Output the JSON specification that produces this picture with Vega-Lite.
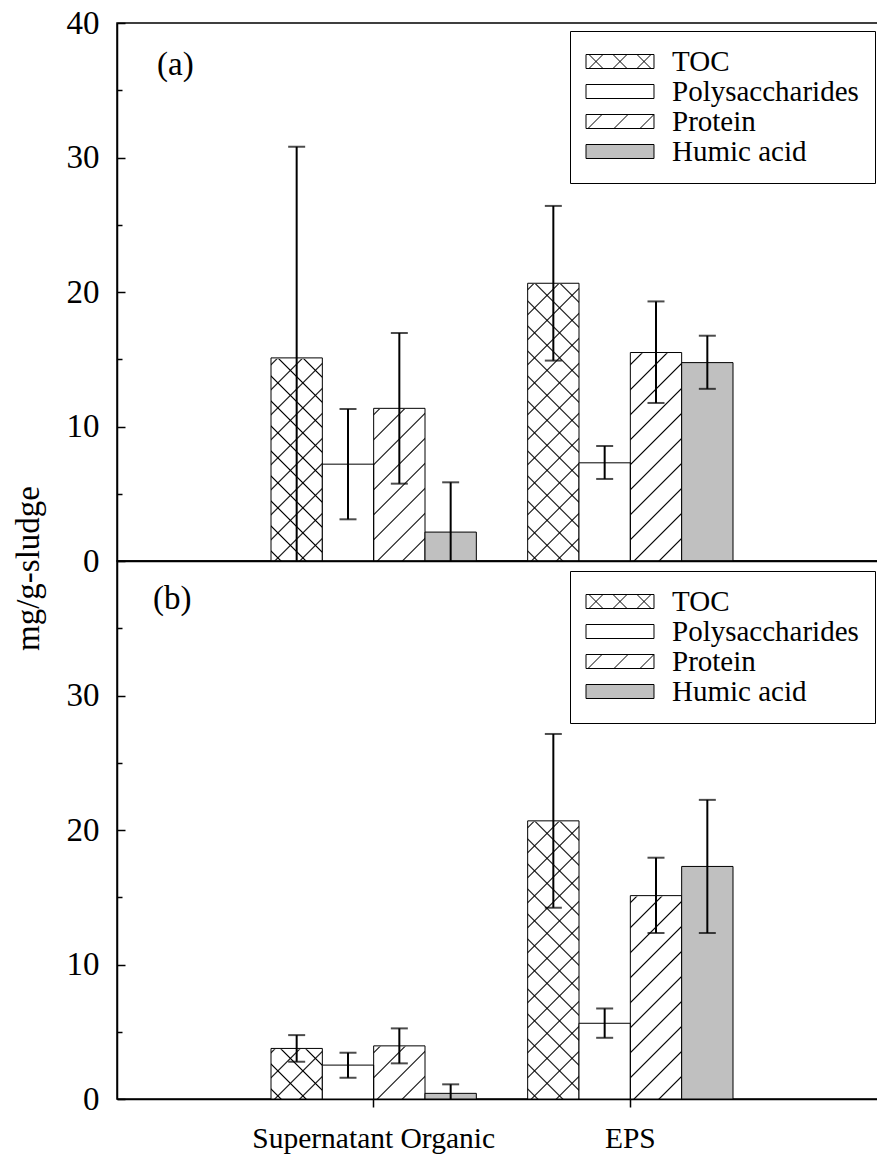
{
  "$schema": "https://vega.github.io/schema/vega-lite/v6.json",
  "background": "white",
  "padding": {"left": 11, "top": 6, "right": 0, "bottom": 0},
  "autosize": {"type": "pad"},
  "spacing": 0,
  "bounds": "flush",
  "config": {
    "font": "Liberation Serif",
    "view": {"stroke": "black", "strokeWidth": 1.5},
    "axis": {"domainColor": "black", "domainWidth": 1.5, "tickColor": "black", "tickWidth": 1.5, "labelColor": "black", "labelFont": "Liberation Serif", "titleFont": "Liberation Serif", "titleColor": "black", "titleFontWeight": "normal", "grid": false, "labelFlush": false, "labelOverlap": false, "labelLimit": 500, "zindex": 1},
    "legend": {"strokeWidth": 1, "labelFont": "Liberation Serif"}
  },
  "data": {"values": [
    {"panel": "a", "cat": "Supernatant Organic", "series": "TOC", "value": 15.1, "lo": -0.6, "hi": 30.8},
    {"panel": "a", "cat": "Supernatant Organic", "series": "Polysaccharides", "value": 7.2, "lo": 3.1, "hi": 11.3},
    {"panel": "a", "cat": "Supernatant Organic", "series": "Protein", "value": 11.35, "lo": 5.75, "hi": 16.95},
    {"panel": "a", "cat": "Supernatant Organic", "series": "Humic acid", "value": 2.15, "lo": -1.55, "hi": 5.85},
    {"panel": "a", "cat": "EPS", "series": "TOC", "value": 20.65, "lo": 14.9, "hi": 26.4},
    {"panel": "a", "cat": "EPS", "series": "Polysaccharides", "value": 7.3, "lo": 6.1, "hi": 8.55},
    {"panel": "a", "cat": "EPS", "series": "Protein", "value": 15.5, "lo": 11.75, "hi": 19.3},
    {"panel": "a", "cat": "EPS", "series": "Humic acid", "value": 14.75, "lo": 12.8, "hi": 16.75},
    {"panel": "b", "cat": "Supernatant Organic", "series": "TOC", "value": 3.76, "lo": 2.77, "hi": 4.75},
    {"panel": "b", "cat": "Supernatant Organic", "series": "Polysaccharides", "value": 2.52, "lo": 1.58, "hi": 3.44},
    {"panel": "b", "cat": "Supernatant Organic", "series": "Protein", "value": 3.95, "lo": 2.65, "hi": 5.25},
    {"panel": "b", "cat": "Supernatant Organic", "series": "Humic acid", "value": 0.42, "lo": -0.25, "hi": 1.09},
    {"panel": "b", "cat": "EPS", "series": "TOC", "value": 20.68, "lo": 14.22, "hi": 27.14},
    {"panel": "b", "cat": "EPS", "series": "Polysaccharides", "value": 5.63, "lo": 4.55, "hi": 6.73},
    {"panel": "b", "cat": "EPS", "series": "Protein", "value": 15.12, "lo": 12.34, "hi": 17.94},
    {"panel": "b", "cat": "EPS", "series": "Humic acid", "value": 17.29, "lo": 12.34, "hi": 22.24}
  ]},
  "resolve": {"scale": {"fill": "independent", "shape": "independent", "stroke": "independent", "y": "independent"}, "legend": {"fill": "independent", "shape": "independent", "stroke": "independent"}},
  "vconcat": [
    {
      "width": 770, "height": 538,
      "title": {"text": "(a)", "orient": "top", "anchor": "start", "frame": "group", "offset": -101, "dx": 40, "baseline": "alphabetic", "font": "Liberation Serif", "fontSize": 33, "fontWeight": "normal", "color": "black"},
      "transform": [{"filter": "datum.panel === 'a'"}],
      "encoding": {
        "x": {"field": "cat", "type": "nominal", "title": null, "scale": {"domain": ["Supernatant Organic", "EPS"], "paddingInner": 0.2, "paddingOuter": 0.6}, "axis": {"labels": false, "ticks": false, "title": null}},
        "xOffset": {"field": "series", "type": "nominal", "scale": {"domain": ["TOC", "Polysaccharides", "Protein", "Humic acid"], "paddingInner": 0, "paddingOuter": 0}}
      },
      "resolve": {"axis": {"y": "independent"}},
      "layer": [
        {"transform": [{"filter": "datum.series === 'TOC'"}],
         "mark": {"type": "bar", "fill": {"gradient": "linear", "x1": 0, "y1": 0, "x2": 0.104979, "y2": 1.08649, "stops": [{"offset":0,"color":"white"},{"offset":0.0146,"color":"white"},{"offset":0.0172,"color":"black"},{"offset":0.0198,"color":"white"},{"offset":0.0575,"color":"white"},{"offset":0.0601,"color":"black"},{"offset":0.0627,"color":"white"},{"offset":0.1004,"color":"white"},{"offset":0.103,"color":"black"},{"offset":0.1056,"color":"white"},{"offset":0.1433,"color":"white"},{"offset":0.1459,"color":"black"},{"offset":0.1485,"color":"white"},{"offset":0.1862,"color":"white"},{"offset":0.1888,"color":"black"},{"offset":0.1914,"color":"white"},{"offset":0.2291,"color":"white"},{"offset":0.2317,"color":"black"},{"offset":0.2343,"color":"white"},{"offset":0.272,"color":"white"},{"offset":0.2746,"color":"black"},{"offset":0.2772,"color":"white"},{"offset":0.3149,"color":"white"},{"offset":0.3175,"color":"black"},{"offset":0.3201,"color":"white"},{"offset":0.3578,"color":"white"},{"offset":0.3604,"color":"black"},{"offset":0.363,"color":"white"},{"offset":0.4008,"color":"white"},{"offset":0.4034,"color":"black"},{"offset":0.406,"color":"white"},{"offset":0.4437,"color":"white"},{"offset":0.4463,"color":"black"},{"offset":0.4489,"color":"white"},{"offset":0.4866,"color":"white"},{"offset":0.4892,"color":"black"},{"offset":0.4918,"color":"white"},{"offset":0.5295,"color":"white"},{"offset":0.5321,"color":"black"},{"offset":0.5347,"color":"white"},{"offset":0.5724,"color":"white"},{"offset":0.575,"color":"black"},{"offset":0.5776,"color":"white"},{"offset":0.6153,"color":"white"},{"offset":0.6179,"color":"black"},{"offset":0.6205,"color":"white"},{"offset":0.6582,"color":"white"},{"offset":0.6608,"color":"black"},{"offset":0.6634,"color":"white"},{"offset":0.7011,"color":"white"},{"offset":0.7037,"color":"black"},{"offset":0.7063,"color":"white"},{"offset":0.744,"color":"white"},{"offset":0.7466,"color":"black"},{"offset":0.7492,"color":"white"},{"offset":0.787,"color":"white"},{"offset":0.7896,"color":"black"},{"offset":0.7922,"color":"white"},{"offset":0.8299,"color":"white"},{"offset":0.8325,"color":"black"},{"offset":0.8351,"color":"white"},{"offset":0.8728,"color":"white"},{"offset":0.8754,"color":"black"},{"offset":0.878,"color":"white"},{"offset":0.9157,"color":"white"},{"offset":0.9183,"color":"black"},{"offset":0.9209,"color":"white"},{"offset":0.9586,"color":"white"},{"offset":0.9612,"color":"black"},{"offset":0.9638,"color":"white"},{"offset":1,"color":"white"}]}},
         "encoding": {"y": {"datum": 39.5, "type": "quantitative", "scale": {"domain": [0, 40], "nice": false, "zero": true}, "axis": null}, "y2": {"datum": 0}}},
        {"transform": [{"filter": "datum.series === 'TOC'"}],
         "mark": {"type": "bar", "fill": {"gradient": "linear", "x1": 0, "y1": 1, "x2": 0.104979, "y2": -0.08649, "stops": [{"offset":0,"color":"rgba(0,0,0,0)"},{"offset":0.0146,"color":"rgba(0,0,0,0)"},{"offset":0.0172,"color":"black"},{"offset":0.0198,"color":"rgba(0,0,0,0)"},{"offset":0.0575,"color":"rgba(0,0,0,0)"},{"offset":0.0601,"color":"black"},{"offset":0.0627,"color":"rgba(0,0,0,0)"},{"offset":0.1004,"color":"rgba(0,0,0,0)"},{"offset":0.103,"color":"black"},{"offset":0.1056,"color":"rgba(0,0,0,0)"},{"offset":0.1433,"color":"rgba(0,0,0,0)"},{"offset":0.1459,"color":"black"},{"offset":0.1485,"color":"rgba(0,0,0,0)"},{"offset":0.1862,"color":"rgba(0,0,0,0)"},{"offset":0.1888,"color":"black"},{"offset":0.1914,"color":"rgba(0,0,0,0)"},{"offset":0.2291,"color":"rgba(0,0,0,0)"},{"offset":0.2317,"color":"black"},{"offset":0.2343,"color":"rgba(0,0,0,0)"},{"offset":0.272,"color":"rgba(0,0,0,0)"},{"offset":0.2746,"color":"black"},{"offset":0.2772,"color":"rgba(0,0,0,0)"},{"offset":0.3149,"color":"rgba(0,0,0,0)"},{"offset":0.3175,"color":"black"},{"offset":0.3201,"color":"rgba(0,0,0,0)"},{"offset":0.3578,"color":"rgba(0,0,0,0)"},{"offset":0.3604,"color":"black"},{"offset":0.363,"color":"rgba(0,0,0,0)"},{"offset":0.4008,"color":"rgba(0,0,0,0)"},{"offset":0.4034,"color":"black"},{"offset":0.406,"color":"rgba(0,0,0,0)"},{"offset":0.4437,"color":"rgba(0,0,0,0)"},{"offset":0.4463,"color":"black"},{"offset":0.4489,"color":"rgba(0,0,0,0)"},{"offset":0.4866,"color":"rgba(0,0,0,0)"},{"offset":0.4892,"color":"black"},{"offset":0.4918,"color":"rgba(0,0,0,0)"},{"offset":0.5295,"color":"rgba(0,0,0,0)"},{"offset":0.5321,"color":"black"},{"offset":0.5347,"color":"rgba(0,0,0,0)"},{"offset":0.5724,"color":"rgba(0,0,0,0)"},{"offset":0.575,"color":"black"},{"offset":0.5776,"color":"rgba(0,0,0,0)"},{"offset":0.6153,"color":"rgba(0,0,0,0)"},{"offset":0.6179,"color":"black"},{"offset":0.6205,"color":"rgba(0,0,0,0)"},{"offset":0.6582,"color":"rgba(0,0,0,0)"},{"offset":0.6608,"color":"black"},{"offset":0.6634,"color":"rgba(0,0,0,0)"},{"offset":0.7011,"color":"rgba(0,0,0,0)"},{"offset":0.7037,"color":"black"},{"offset":0.7063,"color":"rgba(0,0,0,0)"},{"offset":0.744,"color":"rgba(0,0,0,0)"},{"offset":0.7466,"color":"black"},{"offset":0.7492,"color":"rgba(0,0,0,0)"},{"offset":0.787,"color":"rgba(0,0,0,0)"},{"offset":0.7896,"color":"black"},{"offset":0.7922,"color":"rgba(0,0,0,0)"},{"offset":0.8299,"color":"rgba(0,0,0,0)"},{"offset":0.8325,"color":"black"},{"offset":0.8351,"color":"rgba(0,0,0,0)"},{"offset":0.8728,"color":"rgba(0,0,0,0)"},{"offset":0.8754,"color":"black"},{"offset":0.878,"color":"rgba(0,0,0,0)"},{"offset":0.9157,"color":"rgba(0,0,0,0)"},{"offset":0.9183,"color":"black"},{"offset":0.9209,"color":"rgba(0,0,0,0)"},{"offset":0.9586,"color":"rgba(0,0,0,0)"},{"offset":0.9612,"color":"black"},{"offset":0.9638,"color":"rgba(0,0,0,0)"},{"offset":1,"color":"rgba(0,0,0,0)"}]}},
         "encoding": {"y": {"datum": 39.5, "type": "quantitative", "scale": {"domain": [0, 40], "nice": false, "zero": true}, "axis": null}, "y2": {"datum": 0}}},
        {"transform": [{"filter": "datum.series === 'Protein'"}],
         "mark": {"type": "bar", "fill": {"gradient": "linear", "x1": 0, "y1": 0, "x2": 0.104979, "y2": 1.08649, "stops": [{"offset":0,"color":"white"},{"offset":0.0146,"color":"white"},{"offset":0.0172,"color":"black"},{"offset":0.0198,"color":"white"},{"offset":0.0575,"color":"white"},{"offset":0.0601,"color":"black"},{"offset":0.0627,"color":"white"},{"offset":0.1004,"color":"white"},{"offset":0.103,"color":"black"},{"offset":0.1056,"color":"white"},{"offset":0.1433,"color":"white"},{"offset":0.1459,"color":"black"},{"offset":0.1485,"color":"white"},{"offset":0.1862,"color":"white"},{"offset":0.1888,"color":"black"},{"offset":0.1914,"color":"white"},{"offset":0.2291,"color":"white"},{"offset":0.2317,"color":"black"},{"offset":0.2343,"color":"white"},{"offset":0.272,"color":"white"},{"offset":0.2746,"color":"black"},{"offset":0.2772,"color":"white"},{"offset":0.3149,"color":"white"},{"offset":0.3175,"color":"black"},{"offset":0.3201,"color":"white"},{"offset":0.3578,"color":"white"},{"offset":0.3604,"color":"black"},{"offset":0.363,"color":"white"},{"offset":0.4008,"color":"white"},{"offset":0.4034,"color":"black"},{"offset":0.406,"color":"white"},{"offset":0.4437,"color":"white"},{"offset":0.4463,"color":"black"},{"offset":0.4489,"color":"white"},{"offset":0.4866,"color":"white"},{"offset":0.4892,"color":"black"},{"offset":0.4918,"color":"white"},{"offset":0.5295,"color":"white"},{"offset":0.5321,"color":"black"},{"offset":0.5347,"color":"white"},{"offset":0.5724,"color":"white"},{"offset":0.575,"color":"black"},{"offset":0.5776,"color":"white"},{"offset":0.6153,"color":"white"},{"offset":0.6179,"color":"black"},{"offset":0.6205,"color":"white"},{"offset":0.6582,"color":"white"},{"offset":0.6608,"color":"black"},{"offset":0.6634,"color":"white"},{"offset":0.7011,"color":"white"},{"offset":0.7037,"color":"black"},{"offset":0.7063,"color":"white"},{"offset":0.744,"color":"white"},{"offset":0.7466,"color":"black"},{"offset":0.7492,"color":"white"},{"offset":0.787,"color":"white"},{"offset":0.7896,"color":"black"},{"offset":0.7922,"color":"white"},{"offset":0.8299,"color":"white"},{"offset":0.8325,"color":"black"},{"offset":0.8351,"color":"white"},{"offset":0.8728,"color":"white"},{"offset":0.8754,"color":"black"},{"offset":0.878,"color":"white"},{"offset":0.9157,"color":"white"},{"offset":0.9183,"color":"black"},{"offset":0.9209,"color":"white"},{"offset":0.9586,"color":"white"},{"offset":0.9612,"color":"black"},{"offset":0.9638,"color":"white"},{"offset":1,"color":"white"}]}},
         "encoding": {"y": {"datum": 39.5, "type": "quantitative", "scale": {"domain": [0, 40], "nice": false, "zero": true}, "axis": null}, "y2": {"datum": 0}}},
        {"transform": [{"filter": "datum.series === 'TOC' || datum.series === 'Protein'"}],
         "mark": {"type": "bar", "fill": "white", "stroke": "white", "strokeWidth": 1.5},
         "encoding": {"y": {"field": "value", "type": "quantitative", "scale": {"domain": [0, 40], "nice": false, "zero": true}, "axis": null}, "y2": {"datum": 39.6}}},
        {"mark": {"type": "bar", "stroke": "black", "strokeWidth": 1, "opacity": 1},
         "encoding": {
           "y": {"field": "value", "type": "quantitative", "scale": {"domain": [0, 40], "nice": false, "zero": true},
                 "axis": {"orient": "left", "values": [0, 10, 20, 30, 40], "tickSize": -8, "labelFontSize": 33, "labelPadding": 26, "title": "mg/g-sludge", "titleFontSize": 33, "titleX": -79, "titleY": 545, "titleBaseline": "alphabetic"}},
           "fill": {"condition": [{"test": "datum.series === 'Polysaccharides'", "value": "white"}, {"test": "datum.series === 'Humic acid'", "value": "#c0c0c0"}], "value": "transparent"}
         }},
        {"mark": {"type": "point", "filled": true, "opacity": 0, "strokeWidth": 1},
         "encoding": {
           "y": {"field": "value", "type": "quantitative", "scale": {"domain": [0, 40], "nice": false, "zero": true}, "axis": null},
           "fill": {"field": "series", "type": "nominal",
                    "scale": {"domain": ["TOC", "Polysaccharides", "Protein", "Humic acid"], "range": ["transparent", "white", "transparent", "#c0c0c0"]},
                    "legend": {"orient": "none", "legendX": 453, "legendY": 8, "title": null, "symbolSize": 196, "symbolOffset": 19.5, "symbolStrokeColor": "black", "symbolStrokeWidth": 1, "symbolOpacity": 1, "labelOffset": 37.5, "labelFont": "Liberation Serif", "labelFontSize": 29, "labelColor": "black", "labelLimit": 400, "rowPadding": 0, "padding": 16, "strokeColor": "black", "fillColor": "white", "cornerRadius": 0}},
           "stroke": {"field": "series", "type": "nominal",
                    "scale": {"domain": ["TOC", "Polysaccharides", "Protein", "Humic acid"], "range": ["black", "black", "black", "black"]},
                    "legend": {"orient": "none", "legendX": 453, "legendY": 8, "title": null, "symbolSize": 196, "symbolOffset": 19.5, "symbolStrokeColor": "black", "symbolStrokeWidth": 1, "symbolOpacity": 1, "labelOffset": 37.5, "labelFont": "Liberation Serif", "labelFontSize": 29, "labelColor": "black", "labelLimit": 400, "rowPadding": 0, "padding": 16, "strokeColor": "black", "fillColor": "white", "cornerRadius": 0}},
           "shape": {"field": "series", "type": "nominal",
                     "scale": {"domain": ["TOC", "Polysaccharides", "Protein", "Humic acid"], "range": ["M-4.857,-1H4.857V1H-4.857Z M-4.429,-1L-2.429,1 M-4.429,1L-2.429,-1 M-1,-1L1,1 M-1,1L1,-1 M2.429,-1L4.429,1 M2.429,1L4.429,-1", "M-4.857,-1H4.857V1H-4.857Z", "M-4.857,-1H4.857V1H-4.857Z M-4.571,1L-2.571,-1 M-0.857,1L1.143,-1 M2.857,1L4.857,-1", "M-4.857,-1H4.857V1H-4.857Z"]},
                     "legend": {"orient": "none", "legendX": 453, "legendY": 8, "title": null, "symbolSize": 196, "symbolOffset": 19.5, "symbolStrokeColor": "black", "symbolStrokeWidth": 1, "symbolOpacity": 1, "labelOffset": 37.5, "labelFont": "Liberation Serif", "labelFontSize": 29, "labelColor": "black", "labelLimit": 400, "rowPadding": 0, "padding": 16, "strokeColor": "black", "fillColor": "white", "cornerRadius": 0}}
         }},
        {"mark": {"type": "rule", "color": "black", "strokeWidth": 2, "clip": true},
         "encoding": {"y": {"field": "lo", "type": "quantitative", "scale": {"domain": [0, 40], "nice": false, "zero": true},
                            "axis": {"orient": "left", "values": [5, 15, 25, 35], "tickSize": -5, "labels": false, "domain": false, "title": null}},
                      "y2": {"field": "hi"}}},
        {"mark": {"type": "tick", "color": "black", "size": 17, "thickness": 2, "clip": true},
         "encoding": {"y": {"field": "lo", "type": "quantitative", "scale": {"domain": [0, 40], "nice": false, "zero": true}, "axis": null}}},
        {"mark": {"type": "tick", "color": "black", "size": 17, "thickness": 2, "clip": true},
         "encoding": {"y": {"field": "hi", "type": "quantitative", "scale": {"domain": [0, 40], "nice": false, "zero": true}, "axis": null}}}
      ]
    },
    {
      "width": 770, "height": 538,
      "title": {"text": "(b)", "orient": "top", "anchor": "start", "frame": "group", "offset": -81, "dx": 36, "baseline": "alphabetic", "font": "Liberation Serif", "fontSize": 33, "fontWeight": "normal", "color": "black"},
      "transform": [{"filter": "datum.panel === 'b'"}],
      "encoding": {
        "x": {"field": "cat", "type": "nominal", "title": null, "scale": {"domain": ["Supernatant Organic", "EPS"], "paddingInner": 0.2, "paddingOuter": 0.6},
              "axis": {"title": null, "labelFont": "Liberation Serif", "labelFontSize": 29.5, "labelPadding": 17, "labelLimit": 500, "tickSize": 8, "bandPosition": 0.5, "labelAngle": 0}},
        "xOffset": {"field": "series", "type": "nominal", "scale": {"domain": ["TOC", "Polysaccharides", "Protein", "Humic acid"], "paddingInner": 0, "paddingOuter": 0}}
      },
      "resolve": {"axis": {"y": "independent"}},
      "layer": [
        {"transform": [{"filter": "datum.series === 'TOC'"}],
         "mark": {"type": "bar", "fill": {"gradient": "linear", "x1": 0, "y1": 0, "x2": 0.104979, "y2": 1.08649, "stops": [{"offset":0,"color":"white"},{"offset":0.0146,"color":"white"},{"offset":0.0172,"color":"black"},{"offset":0.0198,"color":"white"},{"offset":0.0575,"color":"white"},{"offset":0.0601,"color":"black"},{"offset":0.0627,"color":"white"},{"offset":0.1004,"color":"white"},{"offset":0.103,"color":"black"},{"offset":0.1056,"color":"white"},{"offset":0.1433,"color":"white"},{"offset":0.1459,"color":"black"},{"offset":0.1485,"color":"white"},{"offset":0.1862,"color":"white"},{"offset":0.1888,"color":"black"},{"offset":0.1914,"color":"white"},{"offset":0.2291,"color":"white"},{"offset":0.2317,"color":"black"},{"offset":0.2343,"color":"white"},{"offset":0.272,"color":"white"},{"offset":0.2746,"color":"black"},{"offset":0.2772,"color":"white"},{"offset":0.3149,"color":"white"},{"offset":0.3175,"color":"black"},{"offset":0.3201,"color":"white"},{"offset":0.3578,"color":"white"},{"offset":0.3604,"color":"black"},{"offset":0.363,"color":"white"},{"offset":0.4008,"color":"white"},{"offset":0.4034,"color":"black"},{"offset":0.406,"color":"white"},{"offset":0.4437,"color":"white"},{"offset":0.4463,"color":"black"},{"offset":0.4489,"color":"white"},{"offset":0.4866,"color":"white"},{"offset":0.4892,"color":"black"},{"offset":0.4918,"color":"white"},{"offset":0.5295,"color":"white"},{"offset":0.5321,"color":"black"},{"offset":0.5347,"color":"white"},{"offset":0.5724,"color":"white"},{"offset":0.575,"color":"black"},{"offset":0.5776,"color":"white"},{"offset":0.6153,"color":"white"},{"offset":0.6179,"color":"black"},{"offset":0.6205,"color":"white"},{"offset":0.6582,"color":"white"},{"offset":0.6608,"color":"black"},{"offset":0.6634,"color":"white"},{"offset":0.7011,"color":"white"},{"offset":0.7037,"color":"black"},{"offset":0.7063,"color":"white"},{"offset":0.744,"color":"white"},{"offset":0.7466,"color":"black"},{"offset":0.7492,"color":"white"},{"offset":0.787,"color":"white"},{"offset":0.7896,"color":"black"},{"offset":0.7922,"color":"white"},{"offset":0.8299,"color":"white"},{"offset":0.8325,"color":"black"},{"offset":0.8351,"color":"white"},{"offset":0.8728,"color":"white"},{"offset":0.8754,"color":"black"},{"offset":0.878,"color":"white"},{"offset":0.9157,"color":"white"},{"offset":0.9183,"color":"black"},{"offset":0.9209,"color":"white"},{"offset":0.9586,"color":"white"},{"offset":0.9612,"color":"black"},{"offset":0.9638,"color":"white"},{"offset":1,"color":"white"}]}},
         "encoding": {"y": {"datum": 39.5, "type": "quantitative", "scale": {"domain": [0, 40], "nice": false, "zero": true}, "axis": null}, "y2": {"datum": 0}}},
        {"transform": [{"filter": "datum.series === 'TOC'"}],
         "mark": {"type": "bar", "fill": {"gradient": "linear", "x1": 0, "y1": 1, "x2": 0.104979, "y2": -0.08649, "stops": [{"offset":0,"color":"rgba(0,0,0,0)"},{"offset":0.0146,"color":"rgba(0,0,0,0)"},{"offset":0.0172,"color":"black"},{"offset":0.0198,"color":"rgba(0,0,0,0)"},{"offset":0.0575,"color":"rgba(0,0,0,0)"},{"offset":0.0601,"color":"black"},{"offset":0.0627,"color":"rgba(0,0,0,0)"},{"offset":0.1004,"color":"rgba(0,0,0,0)"},{"offset":0.103,"color":"black"},{"offset":0.1056,"color":"rgba(0,0,0,0)"},{"offset":0.1433,"color":"rgba(0,0,0,0)"},{"offset":0.1459,"color":"black"},{"offset":0.1485,"color":"rgba(0,0,0,0)"},{"offset":0.1862,"color":"rgba(0,0,0,0)"},{"offset":0.1888,"color":"black"},{"offset":0.1914,"color":"rgba(0,0,0,0)"},{"offset":0.2291,"color":"rgba(0,0,0,0)"},{"offset":0.2317,"color":"black"},{"offset":0.2343,"color":"rgba(0,0,0,0)"},{"offset":0.272,"color":"rgba(0,0,0,0)"},{"offset":0.2746,"color":"black"},{"offset":0.2772,"color":"rgba(0,0,0,0)"},{"offset":0.3149,"color":"rgba(0,0,0,0)"},{"offset":0.3175,"color":"black"},{"offset":0.3201,"color":"rgba(0,0,0,0)"},{"offset":0.3578,"color":"rgba(0,0,0,0)"},{"offset":0.3604,"color":"black"},{"offset":0.363,"color":"rgba(0,0,0,0)"},{"offset":0.4008,"color":"rgba(0,0,0,0)"},{"offset":0.4034,"color":"black"},{"offset":0.406,"color":"rgba(0,0,0,0)"},{"offset":0.4437,"color":"rgba(0,0,0,0)"},{"offset":0.4463,"color":"black"},{"offset":0.4489,"color":"rgba(0,0,0,0)"},{"offset":0.4866,"color":"rgba(0,0,0,0)"},{"offset":0.4892,"color":"black"},{"offset":0.4918,"color":"rgba(0,0,0,0)"},{"offset":0.5295,"color":"rgba(0,0,0,0)"},{"offset":0.5321,"color":"black"},{"offset":0.5347,"color":"rgba(0,0,0,0)"},{"offset":0.5724,"color":"rgba(0,0,0,0)"},{"offset":0.575,"color":"black"},{"offset":0.5776,"color":"rgba(0,0,0,0)"},{"offset":0.6153,"color":"rgba(0,0,0,0)"},{"offset":0.6179,"color":"black"},{"offset":0.6205,"color":"rgba(0,0,0,0)"},{"offset":0.6582,"color":"rgba(0,0,0,0)"},{"offset":0.6608,"color":"black"},{"offset":0.6634,"color":"rgba(0,0,0,0)"},{"offset":0.7011,"color":"rgba(0,0,0,0)"},{"offset":0.7037,"color":"black"},{"offset":0.7063,"color":"rgba(0,0,0,0)"},{"offset":0.744,"color":"rgba(0,0,0,0)"},{"offset":0.7466,"color":"black"},{"offset":0.7492,"color":"rgba(0,0,0,0)"},{"offset":0.787,"color":"rgba(0,0,0,0)"},{"offset":0.7896,"color":"black"},{"offset":0.7922,"color":"rgba(0,0,0,0)"},{"offset":0.8299,"color":"rgba(0,0,0,0)"},{"offset":0.8325,"color":"black"},{"offset":0.8351,"color":"rgba(0,0,0,0)"},{"offset":0.8728,"color":"rgba(0,0,0,0)"},{"offset":0.8754,"color":"black"},{"offset":0.878,"color":"rgba(0,0,0,0)"},{"offset":0.9157,"color":"rgba(0,0,0,0)"},{"offset":0.9183,"color":"black"},{"offset":0.9209,"color":"rgba(0,0,0,0)"},{"offset":0.9586,"color":"rgba(0,0,0,0)"},{"offset":0.9612,"color":"black"},{"offset":0.9638,"color":"rgba(0,0,0,0)"},{"offset":1,"color":"rgba(0,0,0,0)"}]}},
         "encoding": {"y": {"datum": 39.5, "type": "quantitative", "scale": {"domain": [0, 40], "nice": false, "zero": true}, "axis": null}, "y2": {"datum": 0}}},
        {"transform": [{"filter": "datum.series === 'Protein'"}],
         "mark": {"type": "bar", "fill": {"gradient": "linear", "x1": 0, "y1": 0, "x2": 0.104979, "y2": 1.08649, "stops": [{"offset":0,"color":"white"},{"offset":0.0146,"color":"white"},{"offset":0.0172,"color":"black"},{"offset":0.0198,"color":"white"},{"offset":0.0575,"color":"white"},{"offset":0.0601,"color":"black"},{"offset":0.0627,"color":"white"},{"offset":0.1004,"color":"white"},{"offset":0.103,"color":"black"},{"offset":0.1056,"color":"white"},{"offset":0.1433,"color":"white"},{"offset":0.1459,"color":"black"},{"offset":0.1485,"color":"white"},{"offset":0.1862,"color":"white"},{"offset":0.1888,"color":"black"},{"offset":0.1914,"color":"white"},{"offset":0.2291,"color":"white"},{"offset":0.2317,"color":"black"},{"offset":0.2343,"color":"white"},{"offset":0.272,"color":"white"},{"offset":0.2746,"color":"black"},{"offset":0.2772,"color":"white"},{"offset":0.3149,"color":"white"},{"offset":0.3175,"color":"black"},{"offset":0.3201,"color":"white"},{"offset":0.3578,"color":"white"},{"offset":0.3604,"color":"black"},{"offset":0.363,"color":"white"},{"offset":0.4008,"color":"white"},{"offset":0.4034,"color":"black"},{"offset":0.406,"color":"white"},{"offset":0.4437,"color":"white"},{"offset":0.4463,"color":"black"},{"offset":0.4489,"color":"white"},{"offset":0.4866,"color":"white"},{"offset":0.4892,"color":"black"},{"offset":0.4918,"color":"white"},{"offset":0.5295,"color":"white"},{"offset":0.5321,"color":"black"},{"offset":0.5347,"color":"white"},{"offset":0.5724,"color":"white"},{"offset":0.575,"color":"black"},{"offset":0.5776,"color":"white"},{"offset":0.6153,"color":"white"},{"offset":0.6179,"color":"black"},{"offset":0.6205,"color":"white"},{"offset":0.6582,"color":"white"},{"offset":0.6608,"color":"black"},{"offset":0.6634,"color":"white"},{"offset":0.7011,"color":"white"},{"offset":0.7037,"color":"black"},{"offset":0.7063,"color":"white"},{"offset":0.744,"color":"white"},{"offset":0.7466,"color":"black"},{"offset":0.7492,"color":"white"},{"offset":0.787,"color":"white"},{"offset":0.7896,"color":"black"},{"offset":0.7922,"color":"white"},{"offset":0.8299,"color":"white"},{"offset":0.8325,"color":"black"},{"offset":0.8351,"color":"white"},{"offset":0.8728,"color":"white"},{"offset":0.8754,"color":"black"},{"offset":0.878,"color":"white"},{"offset":0.9157,"color":"white"},{"offset":0.9183,"color":"black"},{"offset":0.9209,"color":"white"},{"offset":0.9586,"color":"white"},{"offset":0.9612,"color":"black"},{"offset":0.9638,"color":"white"},{"offset":1,"color":"white"}]}},
         "encoding": {"y": {"datum": 39.5, "type": "quantitative", "scale": {"domain": [0, 40], "nice": false, "zero": true}, "axis": null}, "y2": {"datum": 0}}},
        {"transform": [{"filter": "datum.series === 'TOC' || datum.series === 'Protein'"}],
         "mark": {"type": "bar", "fill": "white", "stroke": "white", "strokeWidth": 1.5},
         "encoding": {"y": {"field": "value", "type": "quantitative", "scale": {"domain": [0, 40], "nice": false, "zero": true}, "axis": null}, "y2": {"datum": 39.6}}},
        {"mark": {"type": "bar", "stroke": "black", "strokeWidth": 1, "opacity": 1},
         "encoding": {
           "y": {"field": "value", "type": "quantitative", "scale": {"domain": [0, 40], "nice": false, "zero": true},
                 "axis": {"orient": "left", "values": [0, 10, 20, 30], "tickSize": -8, "labelFontSize": 33, "labelPadding": 26, "title": null}},
           "fill": {"condition": [{"test": "datum.series === 'Polysaccharides'", "value": "white"}, {"test": "datum.series === 'Humic acid'", "value": "#c0c0c0"}], "value": "transparent"}
         }},
        {"mark": {"type": "point", "filled": true, "opacity": 0, "strokeWidth": 1},
         "encoding": {
           "y": {"field": "value", "type": "quantitative", "scale": {"domain": [0, 40], "nice": false, "zero": true}, "axis": null},
           "fill": {"field": "series", "type": "nominal",
                    "scale": {"domain": ["TOC", "Polysaccharides", "Protein", "Humic acid"], "range": ["transparent", "white", "transparent", "#c0c0c0"]},
                    "legend": {"orient": "none", "legendX": 453, "legendY": 10, "title": null, "symbolSize": 196, "symbolOffset": 19.5, "symbolStrokeColor": "black", "symbolStrokeWidth": 1, "symbolOpacity": 1, "labelOffset": 37.5, "labelFont": "Liberation Serif", "labelFontSize": 29, "labelColor": "black", "labelLimit": 400, "rowPadding": 0, "padding": 16, "strokeColor": "black", "fillColor": "white", "cornerRadius": 0}},
           "stroke": {"field": "series", "type": "nominal",
                    "scale": {"domain": ["TOC", "Polysaccharides", "Protein", "Humic acid"], "range": ["black", "black", "black", "black"]},
                    "legend": {"orient": "none", "legendX": 453, "legendY": 10, "title": null, "symbolSize": 196, "symbolOffset": 19.5, "symbolStrokeColor": "black", "symbolStrokeWidth": 1, "symbolOpacity": 1, "labelOffset": 37.5, "labelFont": "Liberation Serif", "labelFontSize": 29, "labelColor": "black", "labelLimit": 400, "rowPadding": 0, "padding": 16, "strokeColor": "black", "fillColor": "white", "cornerRadius": 0}},
           "shape": {"field": "series", "type": "nominal",
                     "scale": {"domain": ["TOC", "Polysaccharides", "Protein", "Humic acid"], "range": ["M-4.857,-1H4.857V1H-4.857Z M-4.429,-1L-2.429,1 M-4.429,1L-2.429,-1 M-1,-1L1,1 M-1,1L1,-1 M2.429,-1L4.429,1 M2.429,1L4.429,-1", "M-4.857,-1H4.857V1H-4.857Z", "M-4.857,-1H4.857V1H-4.857Z M-4.571,1L-2.571,-1 M-0.857,1L1.143,-1 M2.857,1L4.857,-1", "M-4.857,-1H4.857V1H-4.857Z"]},
                     "legend": {"orient": "none", "legendX": 453, "legendY": 10, "title": null, "symbolSize": 196, "symbolOffset": 19.5, "symbolStrokeColor": "black", "symbolStrokeWidth": 1, "symbolOpacity": 1, "labelOffset": 37.5, "labelFont": "Liberation Serif", "labelFontSize": 29, "labelColor": "black", "labelLimit": 400, "rowPadding": 0, "padding": 16, "strokeColor": "black", "fillColor": "white", "cornerRadius": 0}}
         }},
        {"mark": {"type": "rule", "color": "black", "strokeWidth": 2, "clip": true},
         "encoding": {"y": {"field": "lo", "type": "quantitative", "scale": {"domain": [0, 40], "nice": false, "zero": true},
                            "axis": {"orient": "left", "values": [5, 15, 25, 35], "tickSize": -5, "labels": false, "domain": false, "title": null}},
                      "y2": {"field": "hi"}}},
        {"mark": {"type": "tick", "color": "black", "size": 17, "thickness": 2, "clip": true},
         "encoding": {"y": {"field": "lo", "type": "quantitative", "scale": {"domain": [0, 40], "nice": false, "zero": true}, "axis": null}}},
        {"mark": {"type": "tick", "color": "black", "size": 17, "thickness": 2, "clip": true},
         "encoding": {"y": {"field": "hi", "type": "quantitative", "scale": {"domain": [0, 40], "nice": false, "zero": true}, "axis": null}}}
      ]
    }
  ]
}
